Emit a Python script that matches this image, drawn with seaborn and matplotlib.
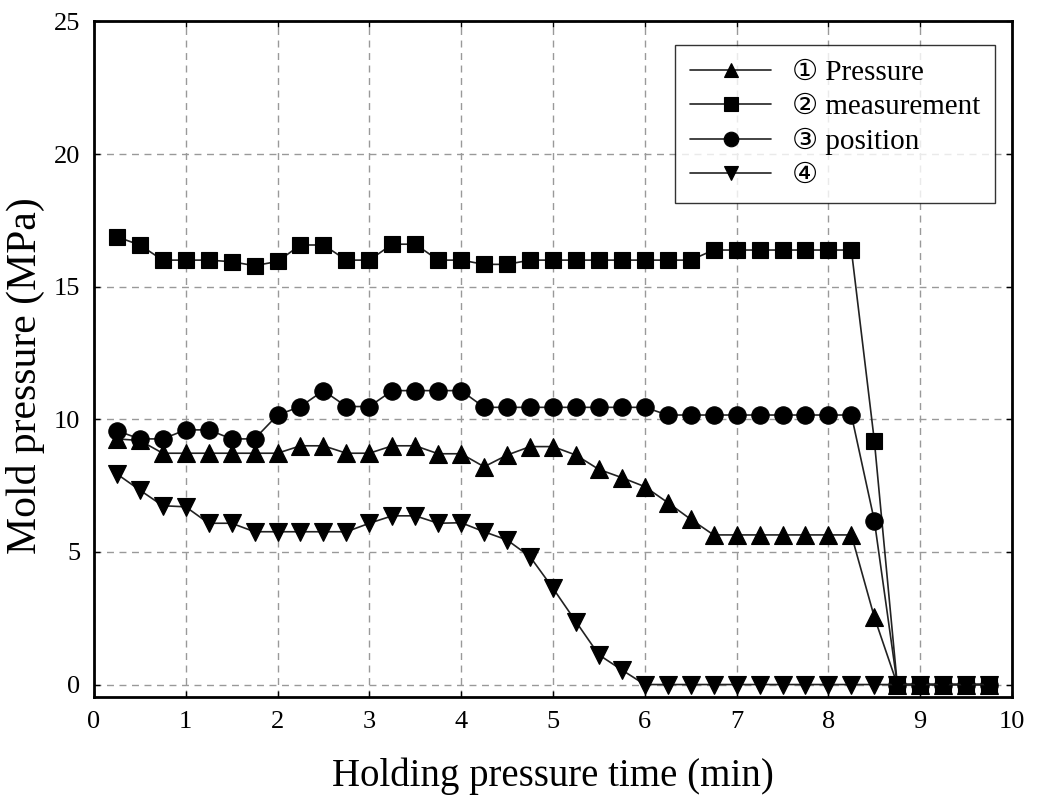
import numpy as np
import pandas as pd
import matplotlib
matplotlib.use("Agg")
import matplotlib.pyplot as plt
import seaborn as sns

# ---- data ----
time_min = [0.25 * k for k in range(1, 40)]

pressure_1 = [9.26, 9.2, 8.72, 8.72, 8.72, 8.72, 8.72, 8.72, 9.0, 9.0,
              8.72, 8.72, 9.0, 9.0, 8.7, 8.7, 8.21, 8.65, 8.97, 8.97,
              8.65, 8.11, 7.8, 7.46, 6.86, 6.23, 5.64, 5.64, 5.64, 5.64,
              5.64, 5.64, 5.64, 2.54, 0, 0, 0, 0, 0]
pressure_2 = [16.88, 16.57, 16.0, 16.0, 16.0, 15.94, 15.79, 15.95, 16.57, 16.57,
              16.0, 16.0, 16.6, 16.6, 16.0, 16.0, 15.84, 15.84, 16.0, 16.0,
              16.0, 16.0, 16.0, 16.0, 16.0, 16.0, 16.38, 16.38, 16.38, 16.38,
              16.38, 16.38, 16.38, 9.19, 0, 0, 0, 0, 0]
pressure_3 = [9.57, 9.26, 9.26, 9.6, 9.6, 9.26, 9.26, 10.16, 10.48, 11.08,
              10.48, 10.48, 11.08, 11.08, 11.08, 11.08, 10.45, 10.45, 10.45, 10.45,
              10.45, 10.45, 10.45, 10.45, 10.16, 10.16, 10.16, 10.16, 10.16, 10.16,
              10.16, 10.16, 10.16, 6.18, 0, 0, 0, 0, 0]
pressure_4 = [7.94, 7.33, 6.74, 6.7, 6.08, 6.08, 5.76, 5.76, 5.76, 5.76,
              5.76, 6.08, 6.36, 6.36, 6.08, 6.1, 5.76, 5.45, 4.82, 3.63,
              2.37, 1.12, 0.55, 0, 0, 0, 0, 0, 0, 0,
              0, 0, 0, 0, 0, 0, 0, 0, 0]

labels = ["\u2460 Pressure", "\u2461 measurement", "\u2462 position", "\u2463"]
markers = ["^", "s", "o", "v"]
msizes = [13, 11.5, 12.5, 13]

x_ticks = list(range(0, 11))
y_ticks = [0, 5, 10, 15, 20, 25]

# ---- style ----
sns.set_theme(style="white")
plt.rcParams["font.family"] = ["Liberation Serif", "DejaVu Serif", "DejaVu Sans",
                               "Noto Sans CJK JP"]
plt.rcParams["axes.edgecolor"] = "black"
plt.rcParams["text.color"] = "black"
plt.rcParams["axes.labelcolor"] = "black"
plt.rcParams["xtick.color"] = "black"
plt.rcParams["ytick.color"] = "black"

fig = plt.figure(figsize=(10.41, 7.98), dpi=100)
ax = fig.add_axes([0.0902, 0.1269, 0.8820, 0.8463])

series = [pressure_1, pressure_2, pressure_3, pressure_4]
for vals, lab, mk, ms in zip(series, labels, markers, msizes):
    df = pd.DataFrame({"t": time_min, "p": vals})
    sns.lineplot(data=df, x="t", y="p", ax=ax, sort=False, estimator=None,
                 color="#222222", linewidth=1.2, marker=mk, markersize=ms,
                 markerfacecolor="black", markeredgecolor="black",
                 markeredgewidth=0.8, label=lab)

ax.set_xlim(0, 10)
ax.set_ylim(-0.46, 25)
ax.set_xticks(x_ticks)
ax.set_yticks(y_ticks)
ax.set_xticklabels([str(v) for v in x_ticks], fontsize=19)
ax.set_yticklabels([str(v) for v in y_ticks], fontsize=19)
ax.grid(True, color="#999999", linestyle=(0, (5, 4)), linewidth=1.0)
ax.set_axisbelow(True)
ax.tick_params(direction="in", length=4, width=1, top=True, right=True,
               bottom=True, left=True, colors="black", pad=10)
for sp in ax.spines.values():
    sp.set_linewidth(2)
    sp.set_color("black")

ax.set_xlabel("Holding pressure time (min)", fontsize=28, labelpad=18)
ax.set_ylabel("Mold pressure (MPa)", fontsize=30)
ax.yaxis.set_label_coords(-0.053, 0.476)

leg = ax.legend(loc="upper right", bbox_to_anchor=(0.981, 0.965), fontsize=21,
                frameon=True, fancybox=False, edgecolor="black",
                handlelength=2.8, labelspacing=0.26, borderpad=0.5,
                handletextpad=0.7, borderaxespad=0)
leg.get_frame().set_linewidth(1.0)
for h in leg.get_lines():
    h.set_markersize(10.5)

fig.savefig("out.png", dpi=100)
